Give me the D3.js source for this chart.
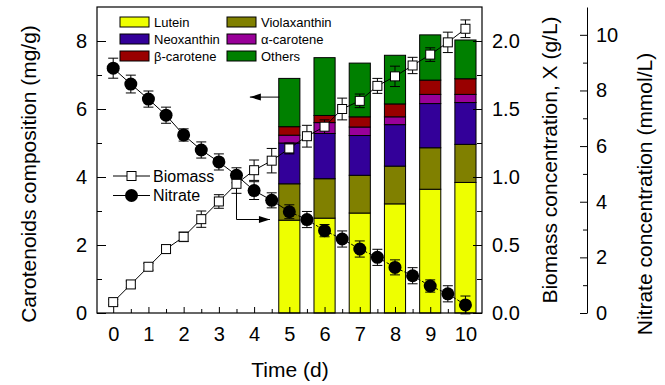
<!DOCTYPE html>
<html>
<head>
<meta charset="utf-8">
<script src="https://cdn.jsdelivr.net/npm/d3@7"></script>
<style>
	body { margin: 0; background: #fff; }
	svg { display: block; font-family: "Liberation Sans", Arial, sans-serif; }
	.axis text { font-size: 20px; fill: #000; }
	.axis line, .axis path { stroke: #000; }
</style>
</head>
<body>
<div id="chart"></div>
<script>
// carotenoid composition (mg/g), days 5..10, stacked bottom to top
var barDays = [5, 6, 7, 8, 9, 10];
var lutein = [2.73, 2.79, 2.94, 3.21, 3.64, 3.84];
var violaxanthin = [1.07, 1.16, 1.11, 1.11, 1.22, 1.12];
var neoxanthin = [1.20, 1.33, 1.17, 1.22, 1.30, 1.23];
var alphaCarotene = [0.23, 0.32, 0.25, 0.23, 0.27, 0.24];
var betaCarotene = [0.25, 0.21, 0.30, 0.38, 0.42, 0.46];
var others = [1.42, 1.70, 1.58, 1.43, 1.33, 1.14];

var pigmentNames = ["Lutein", "Violaxanthin", "Neoxanthin", "\u03b1-carotene", "\u03b2-carotene", "Others"];
var pigmentColors = ["#eeff00", "#808000", "#330099", "#990099", "#990000", "#008000"];

// time courses, sampled every half day
var sampleDays = [0, 0.5, 1, 1.5, 2, 2.5, 3, 3.5, 4, 4.5, 5, 5.5, 6, 6.5, 7, 7.5, 8, 8.5, 9, 9.5, 10];
var biomass = [0.08, 0.21, 0.34, 0.47, 0.56, 0.69, 0.82, 0.95, 1.05, 1.12, 1.21, 1.30, 1.37, 1.50, 1.56, 1.67, 1.74, 1.82, 1.90, 1.99, 2.09];
var biomassErr = [0.02, 0.025, 0.025, 0.03, 0.035, 0.06, 0.05, 0.07, 0.075, 0.09, 0.04, 0.08, 0.05, 0.08, 0.05, 0.055, 0.075, 0.06, 0.05, 0.075, 0.065];
var nitrate = [8.80, 8.23, 7.69, 7.11, 6.40, 5.86, 5.43, 4.95, 4.40, 4.05, 3.64, 3.36, 2.96, 2.66, 2.30, 2.00, 1.64, 1.34, 0.97, 0.69, 0.29];
var nitrateErr = [0.36, 0.32, 0.29, 0.29, 0.22, 0.29, 0.29, 0.27, 0.32, 0.27, 0.25, 0.29, 0.22, 0.29, 0.29, 0.29, 0.27, 0.29, 0.22, 0.29, 0.32];

// tick values
var dayTicks = [0, 1, 2, 3, 4, 5, 6, 7, 8, 9, 10];
var dayMinor = [0.5, 1.5, 2.5, 3.5, 4.5, 5.5, 6.5, 7.5, 8.5, 9.5];
var compTicks = [0, 2, 4, 6, 8];
var compMinor = [1, 3, 5, 7];
var biomassTicks = [0, 0.5, 1.0, 1.5, 2.0];
var biomassMinor = [0.25, 0.75, 1.25, 1.75];
var nitrateTicks = [0, 2, 4, 6, 8, 10];
var nitrateMinor = [1, 3, 5, 7, 9];

// annotation arrows in data units (day, mg/g)
var arrowToLeft = [[4.72, 6.35], [3.88, 6.35]];
var arrowToRight = [[3.5, 3.73], [3.5, 2.75], [4.45, 2.75]];

var width = 665, height = 385;
var plot = { left: 97, right: 482, top: 7, bottom: 313 };

var svg = d3.select("#chart").append("svg")
	.attr("width", width)
	.attr("height", height);

var x = d3.scaleLinear().domain([-0.46, 10.47]).range([plot.left, plot.right]);
var y = d3.scaleLinear().domain([0, 9]).range([plot.bottom, plot.top]);
var yBio = d3.scaleLinear().domain([0, 2.25]).range([plot.bottom, plot.top]);
var yNit = d3.scaleLinear().domain([0, 11]).range([plot.bottom, plot.top]);

// stacked bars
var rows = barDays.map(function(day, i){
	return { day: day, Lutein: lutein[i], Violaxanthin: violaxanthin[i], Neoxanthin: neoxanthin[i],
		"\u03b1-carotene": alphaCarotene[i], "\u03b2-carotene": betaCarotene[i], Others: others[i] };
});
var series = d3.stack().keys(pigmentNames)(rows);
var barW = x(0.6) - x(0);

svg.append("g").attr("class", "bars")
		.selectAll("g")
		.data(series)
	.enter().append("g")
		.attr("fill", function(s, i){ return pigmentColors[i]; })
		.selectAll("rect")
		.data(function(s){ return s; })
	.enter().append("rect")
		.attr("x", function(d){ return x(d.data.day) - barW / 2; })
		.attr("width", barW)
		.attr("y", function(d){ return y(d[1]); })
		.attr("height", function(d){ return y(d[0]) - y(d[1]); })
		.attr("stroke", "#000")
		.attr("stroke-width", 1);

// frame
svg.append("rect")
	.attr("x", plot.left).attr("y", plot.top)
	.attr("width", plot.right - plot.left).attr("height", plot.bottom - plot.top)
	.attr("fill", "none").attr("stroke", "#000").attr("stroke-width", 1.2);

// axes, ticks pointing inward
function addAxis(axis, tx, ty){
	var g = svg.append("g").attr("class", "axis").attr("transform", "translate(" + tx + "," + ty + ")").call(axis);
	g.select(".domain").remove();
	return g;
}

addAxis(d3.axisBottom(x).tickValues(dayTicks).tickSize(-6).tickPadding(14), 0, plot.bottom);
addAxis(d3.axisBottom(x).tickValues(dayMinor).tickSize(-4).tickFormat(""), 0, plot.bottom);
addAxis(d3.axisLeft(y).tickValues(compTicks).tickSize(-9).tickPadding(10), plot.left, 0);
addAxis(d3.axisLeft(y).tickValues(compMinor).tickSize(-5).tickFormat(""), plot.left, 0);
addAxis(d3.axisRight(yBio).tickValues(biomassTicks).tickSize(-9).tickPadding(10).tickFormat(d3.format(".1f")), plot.right, 0);
addAxis(d3.axisRight(yBio).tickValues(biomassMinor).tickSize(-5).tickFormat(""), plot.right, 0);

var nitX = 587;
var nitAxis = svg.append("g").attr("class", "axis").attr("transform", "translate(" + nitX + ",0)")
	.call(d3.axisRight(yNit).tickValues(nitrateTicks).tickSize(-7).tickSizeOuter(0).tickPadding(9));
addAxis(d3.axisRight(yNit).tickValues(nitrateMinor).tickSize(-4).tickFormat(""), nitX, 0);

// axis titles
function title(text, cx, cy, rotate){
	svg.append("text")
		.attr("transform", "translate(" + cx + "," + cy + ")" + (rotate ? " rotate(-90)" : ""))
		.attr("text-anchor", "middle")
		.attr("dy", rotate ? "0.35em" : null)
		.style("font-size", "21px")
		.text(text);
}
title("Carotenoids composition (mg/g)", 29, 174, true);
title("Biomass concentration, X (g/L)", 550, 160, true);
title("Nitrate concentration (mmol/L)", 645, 194, true);
title("Time (d)", 290, 377, false);

// annotation arrows
function arrow(points){
	var pts = points.map(function(p){ return [x(p[0]), y(p[1])]; });
	svg.append("path")
		.attr("d", d3.line()(pts))
		.attr("fill", "none").attr("stroke", "#000").attr("stroke-width", 1);
	var a = pts[pts.length - 2], b = pts[pts.length - 1];
	var ang = Math.atan2(b[1] - a[1], b[0] - a[0]);
	var len = 11, half = 3.5;
	var head = [
		b,
		[b[0] - len * Math.cos(ang) + half * Math.sin(ang), b[1] - len * Math.sin(ang) - half * Math.cos(ang)],
		[b[0] - len * Math.cos(ang) - half * Math.sin(ang), b[1] - len * Math.sin(ang) + half * Math.cos(ang)]
	];
	svg.append("path").attr("d", d3.line()(head) + "Z").attr("fill", "#000");
}
arrow(arrowToLeft);
arrow(arrowToRight);

// time course series
function errorBars(g, values, errs, scale){
	var bars = g.append("g").selectAll("g")
			.data(sampleDays)
		.enter().append("g")
			.attr("stroke", "#000").attr("stroke-width", 1);
	bars.append("line")
		.attr("x1", function(d){ return x(d); }).attr("x2", function(d){ return x(d); })
		.attr("y1", function(d, i){ return scale(values[i] - errs[i]); })
		.attr("y2", function(d, i){ return scale(values[i] + errs[i]); });
	[-1, 1].forEach(function(sign){
		bars.append("line")
			.attr("x1", function(d){ return x(d) - 5; }).attr("x2", function(d){ return x(d) + 5; })
			.attr("y1", function(d, i){ return scale(values[i] + sign * errs[i]); })
			.attr("y2", function(d, i){ return scale(values[i] + sign * errs[i]); });
	});
}

var line = d3.line();

var gNit = svg.append("g").attr("class", "nitrate");
var nitPts = sampleDays.map(function(d, i){ return [x(d), yNit(nitrate[i])]; });
var split = sampleDays.indexOf(5);
// solid up to day 5, dashed across the bars
gNit.append("path")
	.attr("d", line(nitPts.slice(0, split + 1)))
	.attr("fill", "none").attr("stroke", "#000").attr("stroke-width", 1);
gNit.append("path")
	.attr("d", line(nitPts.slice(split)))
	.attr("fill", "none").attr("stroke", "#000").attr("stroke-width", 1)
	.attr("stroke-dasharray", "3,2");
errorBars(gNit, nitrate, nitrateErr, yNit);
gNit.append("g").selectAll("circle")
		.data(sampleDays)
	.enter().append("circle")
		.attr("cx", function(d){ return x(d); })
		.attr("cy", function(d, i){ return yNit(nitrate[i]); })
		.attr("r", 6.5)
		.attr("fill", "#000");

var gBio = svg.append("g").attr("class", "biomass");
gBio.append("path")
	.attr("d", line(sampleDays.map(function(d, i){ return [x(d), yBio(biomass[i])]; })))
	.attr("fill", "none").attr("stroke", "#000").attr("stroke-width", 1);
errorBars(gBio, biomass, biomassErr, yBio);
gBio.append("g").selectAll("rect")
		.data(sampleDays)
	.enter().append("rect")
		.attr("x", function(d){ return x(d) - 4.5; })
		.attr("y", function(d, i){ return yBio(biomass[i]) - 4.5; })
		.attr("width", 9).attr("height", 9)
		.attr("fill", "#fff").attr("stroke", "#000").attr("stroke-width", 1);

// pigment legend (two columns)
var legend = svg.append("g").attr("class", "legend")
		.selectAll("g")
		.data(pigmentNames)
	.enter().append("g")
		.attr("transform", function(d, i){ return "translate(" + (i % 2 ? 227 : 120) + "," + (22 + Math.floor(i / 2) * 17) + ")"; });
legend.append("rect")
	.attr("x", 0).attr("y", -5).attr("width", 29).attr("height", 10)
	.attr("fill", function(d, i){ return pigmentColors[i]; })
	.attr("stroke", "#000");
legend.append("text")
	.attr("x", 34).attr("dy", "0.35em")
	.style("font-size", "13px")
	.text(function(d){ return d; });

// series legend
var keys = svg.append("g").attr("class", "keys")
		.selectAll("g")
		.data(["Biomass", "Nitrate"])
	.enter().append("g")
		.attr("transform", function(d, i){ return "translate(113," + (176 + i * 19.5) + ")"; });
keys.append("line").attr("x1", 0).attr("x2", 37).attr("stroke", "#000");
keys.filter(function(d){ return d === "Biomass"; }).append("rect")
	.attr("x", 14).attr("y", -4.5).attr("width", 9).attr("height", 9)
	.attr("fill", "#fff").attr("stroke", "#000");
keys.filter(function(d){ return d === "Nitrate"; }).append("circle")
	.attr("cx", 18.5).attr("r", 6.5).attr("fill", "#000");
keys.append("text")
	.attr("x", 40).attr("dy", "0.35em")
	.style("font-size", "16px")
	.text(function(d){ return d; });
</script>
</body>
</html>
